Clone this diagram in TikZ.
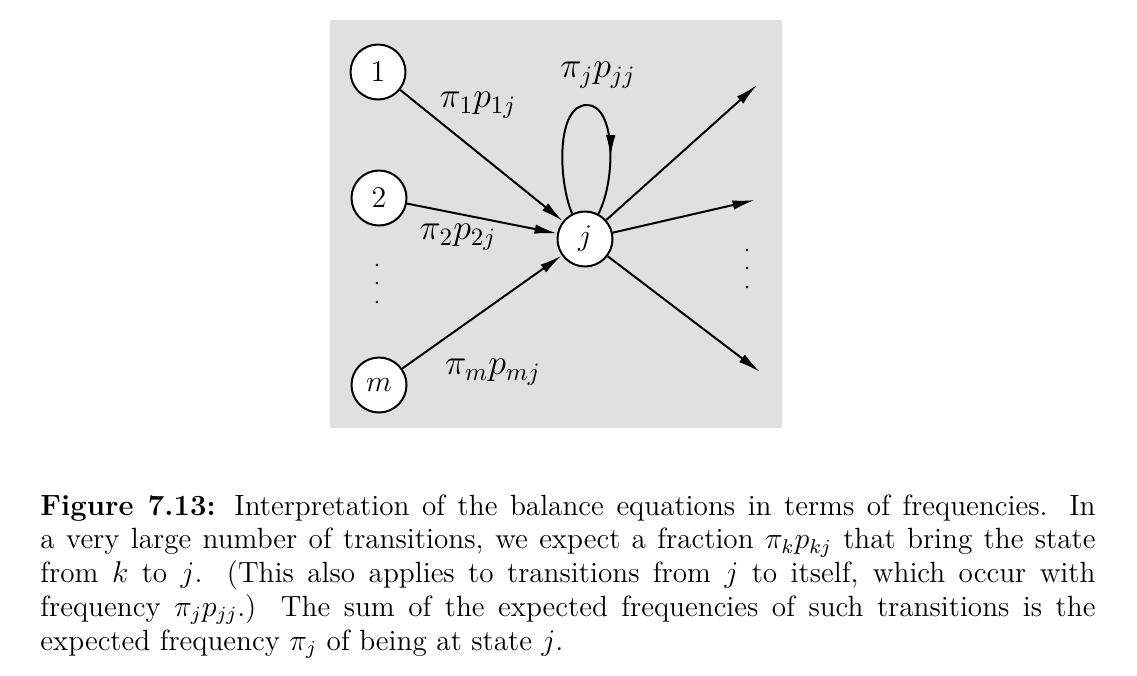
\documentclass[tikz,border=0pt]{standalone}
\usetikzlibrary{arrows.meta,decorations.markings}
\begin{document}
\begin{tikzpicture}[x=0.4pt,y=-0.4pt,
  state/.style={circle,draw,fill=white,line width=0.8pt,minimum size=22pt,inner sep=0pt,font=\fontsize{13}{15}\selectfont},
  lab/.style={inner sep=0pt,font=\fontsize{14}{16}\selectfont},
  arr/.style={line width=0.8pt,-{Latex[length=9pt,width=3.8pt]}}]
\useasboundingbox (0,0) rectangle (1137,675);
\fill[black!12] (330,20) rectangle (782,428);
% nodes
\node[state] (n1) at (378,72) {$1$};
\node[state] (n2) at (379,198) {$2$};
\node[state] (nm) at (379,385) {$m$};
\node[state] (j) at (585,239) {$j$};
\coordinate (o1) at (757,85);
\coordinate (o2) at (755,200);
\coordinate (o3) at (760,372);
% incoming
\draw[arr] (n1) -- (j);
\draw[arr] (n2) -- (j);
\draw[arr] (nm) -- (j);
% outgoing
\draw[arr] (j) -- (o1);
\draw[arr] (j) -- (o2);
\draw[arr] (j) -- (o3);
% self loop
\draw[line width=0.8pt,decoration={markings,mark=at position 0.76 with {\arrow{Latex[length=9pt,width=3.8pt]}}},postaction={decorate}]
  (j.117) .. controls (558,180) and (556,105) .. (587,105)
          .. controls (616,105) and (616,180) .. (j.62);
% labels
\node[lab] (ljj) at (598,75) {$\pi_j p_{jj}$};
\node[lab] (l1) at (478,105) {$\pi_1 p_{1j}$};
\node[lab] (l2) at (458,237) {$\pi_2 p_{2j}$};
\node[lab] (lm) at (493,372) {$\pi_m p_{mj}$};
% dots
\foreach \yy in {265,283,302} \fill (377,\yy) circle (1.3);
\foreach \yy in {250,268,287} \fill (747,\yy) circle (1.3);
% caption
\node[anchor=north west,inner sep=0pt,text width=422pt,align=justify,
      font=\fontsize{11.7}{13.5}\selectfont] (cap) at (40,494)
{\textbf{Figure 7.13:} Interpretation of the balance equations in terms of frequencies. In\linebreak
a very large number of transitions, we expect a fraction $\pi_k p_{kj}$ that bring the state\linebreak
from $k$ to $j$. (This also applies to transitions from $j$ to itself, which occur with\linebreak
frequency $\pi_j p_{jj}$.) The sum of the expected frequencies of such transitions is the\linebreak
expected frequency $\pi_j$ of being at state $j$.};
\end{tikzpicture}
\end{document}
